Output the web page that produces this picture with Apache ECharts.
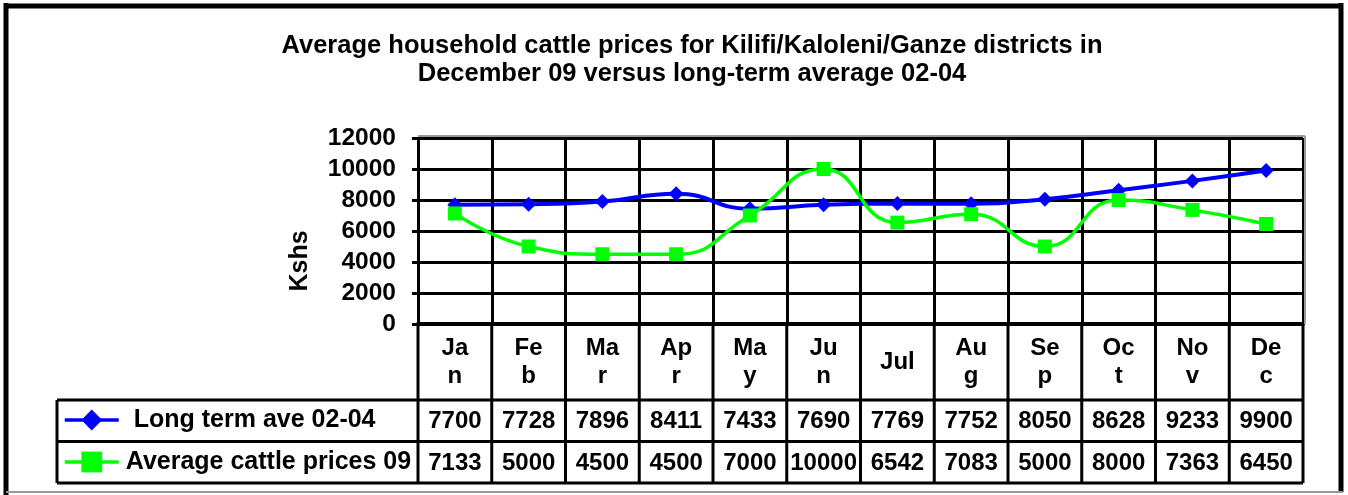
<!DOCTYPE html>
<html>
<head>
<meta charset="utf-8">
<script src="https://cdn.jsdelivr.net/npm/echarts@6/dist/echarts.min.js"></script>
<style>
  html, body { margin: 0; padding: 0; background: #fff; }
  #main { width: 1348px; height: 495px; }
</style>
</head>
<body>
<div id="main"></div>
<script>
var months = ["Jan", "Feb", "Mar", "Apr", "May", "Jun", "Jul", "Aug", "Sep", "Oct", "Nov", "Dec"];
var longTermName = "Long term ave 02-04";
var longTerm = [7700, 7728, 7896, 8411, 7433, 7690, 7769, 7752, 8050, 8628, 9233, 9900];
var pricesName = "Average cattle prices 09";
var prices09 = [7133, 5000, 4500, 4500, 7000, 10000, 6542, 7083, 5000, 8000, 7363, 6450];
var yMin = 0, yMax = 12000, yStep = 2000;

var titleText = "Average household cattle prices for Kilifi/Kaloleni/Ganze districts in\nDecember 09 versus long-term average 02-04";
var yName = "Kshs";

var FONT = "Liberation Sans, Arial, sans-serif";
var blue = "#0000ff";
var green = "#00ff00";

var myChart = echarts.init(document.getElementById("main"));

var option = {
  backgroundColor: "#fff",
  animation: false,
  title: {
    text: titleText,
    left: 692,
    top: 32,
    padding: 0,
    textAlign: "center",
    textStyle: { fontFamily: FONT, fontWeight: "bold", fontSize: 25.5, lineHeight: 28, color: "#000" }
  },
  legend: [
    {
      data: [longTermName], left: 63, top: 406, padding: 0, selectedMode: false,
      itemWidth: 54, itemHeight: 26,
      lineStyle: { width: 3.5 },
      textStyle: { fontFamily: FONT, fontWeight: "bold", fontSize: 25, lineHeight: 28, color: "#000", padding: [0, 0, 0, 10] }
    },
    {
      data: [pricesName], left: 63, top: 448, padding: 0, selectedMode: false,
      itemWidth: 54, itemHeight: 26,
      lineStyle: { width: 3.5 },
      textStyle: { fontFamily: FONT, fontWeight: "bold", fontSize: 25, lineHeight: 28, color: "#000", padding: [0, 0, 0, 2] }
    }
  ],
  grid: { left: 418, top: 138, right: 45, bottom: 171 },
  xAxis: {
    type: "category",
    data: months,
    boundaryGap: true,
    axisLine: { lineStyle: { color: "#000", width: 4 } },
    axisTick: { show: false },
    axisLabel: {
      color: "#000", fontFamily: FONT, fontWeight: "bold", fontSize: 24, lineHeight: 28,
      margin: 38, verticalAlign: "middle", width: 36, overflow: "breakAll", interval: 0
    },
    splitLine: { show: true, lineStyle: { color: "#000", width: 3 } }
  },
  yAxis: {
    type: "value",
    min: yMin, max: yMax, interval: yStep,
    axisLine: { show: true, lineStyle: { color: "#000", width: 3 } },
    axisTick: { show: true, length: 6, lineStyle: { color: "#000", width: 3 } },
    axisLabel: {
      color: "#000", fontFamily: FONT, fontWeight: "bold", fontSize: 24.5, margin: 22,
      formatter: function (v) { return String(v); }
    },
    splitLine: { lineStyle: { color: "#000", width: 3 } }
  },
  series: [
    {
      name: longTermName,
      type: "line",
      data: longTerm,
      smooth: 0.5,
      color: blue,
      symbol: "diamond",
      symbolSize: 15,
      lineStyle: { color: blue, width: 4 },
      itemStyle: { color: blue }
    },
    {
      name: pricesName,
      type: "line",
      data: prices09,
      smooth: 0.5,
      color: green,
      symbol: "rect",
      symbolSize: 14,
      lineStyle: { color: green, width: 3.5 },
      itemStyle: { color: green }
    }
  ]
};

myChart.setOption(option);

// data table and frame drawn under the plot from the axis positions
function buildTable() {
  var cx0 = myChart.convertToPixel({ xAxisIndex: 0 }, 0);
  var cx1 = myChart.convertToPixel({ xAxisIndex: 0 }, 1);
  var colW = cx1 - cx0;
  var left = cx0 - colW / 2;
  var right = left + colW * months.length;
  var base = myChart.convertToPixel({ yAxisIndex: 0 }, yMin);
  var top = myChart.convertToPixel({ yAxisIndex: 0 }, yMax);
  var rowTop = base + 76;
  var rowH = 41.5;
  var bottom = rowTop + rowH * 2;
  var legendLeft = 57;
  var els = [];
  var ln = function (x1, y1, x2, y2, w, c) {
    els.push({ type: "line", z: 100, shape: { x1: x1, y1: y1, x2: x2, y2: y2 },
      style: { stroke: c || "#000", lineWidth: w || 3 } });
  };
  // plot area shadow
  ln(left, top - 2, right + 2, top - 2, 2, "#999");
  ln(right + 2, top - 2, right + 2, base, 2, "#999");
  // horizontal rules
  ln(legendLeft, rowTop, right, rowTop);
  ln(legendLeft, rowTop + rowH, right, rowTop + rowH);
  ln(legendLeft, bottom, right, bottom);
  ln(legendLeft, rowTop, legendLeft, bottom);
  // column rules
  for (var k = 0; k <= months.length; k++) {
    var x = left + k * colW;
    ln(x, base, x, bottom);
  }
  // values
  var rows = [longTerm, prices09];
  rows.forEach(function (arr, r) {
    arr.forEach(function (v, i) {
      els.push({
        type: "text", z: 100,
        x: myChart.convertToPixel({ xAxisIndex: 0 }, i),
        y: rowTop + rowH * r + rowH / 2 + 1,
        style: { text: String(v), fill: "#000", font: "bold 24px " + FONT,
          textAlign: "center", textVerticalAlign: "middle" }
      });
    });
  });
  // y axis name
  els.push({
    type: "text", z: 100, x: 300, y: 261, rotation: Math.PI / 2,
    style: { text: yName, fill: "#000", font: "bold 25px " + FONT,
      textAlign: "center", textVerticalAlign: "middle" }
  });
  // outer frame
  ln(6, 3, 6, 495, 5);
  ln(4, 6, 1343, 6, 5);
  ln(1341, 3, 1341, 492, 5);
  ln(6, 492, 1343, 492, 2, "#999");
  myChart.setOption({ graphic: { elements: els } });
}
buildTable();
</script>
</body>
</html>
